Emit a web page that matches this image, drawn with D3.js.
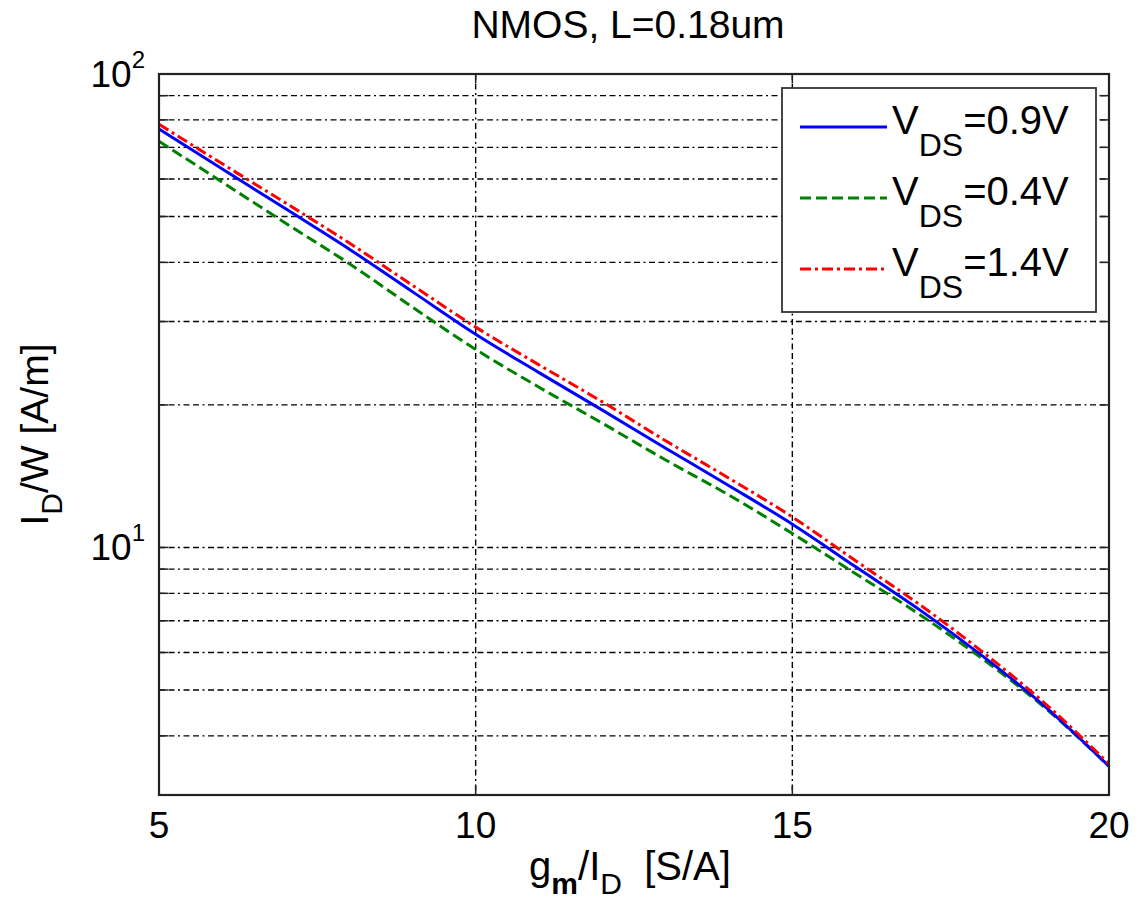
<!DOCTYPE html>
<html>
<head>
<meta charset="utf-8">
<script src="https://cdn.jsdelivr.net/npm/d3@7"></script>
<style>
  body { margin: 0; background: #fff; }
  svg { font-family: "Liberation Sans", Arial, sans-serif; }
</style>
</head>
<body>
<div id="chart"></div>
<script>
// gm/ID sweep [S/A]
const gmId = [5, 6, 7, 8, 9, 10, 11, 12, 13, 14, 15, 16, 17, 18, 19, 20]
// ID/W [A/m] for each VDS
const vds09 = [76.5, 63.0, 51.9, 42.7, 34.7, 28.2, 23.4, 19.5, 16.2, 13.5, 11.2, 9.1, 7.4, 5.9, 4.6, 3.45]
const vds04 = [72.1, 59.1, 48.4, 39.8, 32.2, 26.2, 21.8, 18.3, 15.3, 12.9, 10.7, 8.8, 7.23, 5.82, 4.57, 3.45]
const vds14 = [78.3, 64.6, 53.4, 44.0, 35.8, 29.2, 24.3, 20.3, 16.8, 14.0, 11.6, 9.37, 7.59, 6.02, 4.67, 3.49]

const seriesNames = ['0.9', '0.4', '1.4']
const xTicks = [5, 10, 15, 20]
const yGrid = [4, 5, 6, 7, 8, 9, 10, 20, 30, 40, 50, 60, 70, 80, 90]
const yDecades = [{v: 10, exp: '1'}, {v: 100, exp: '2'}]

const width = 1136
const height = 910
const m = {left: 159, top: 74, right: 1109, bottom: 795}

const svg = d3.select('#chart').append('svg')
  .attr('width', width)
  .attr('height', height)

const x = d3.scaleLinear().domain([5, 20]).range([m.left, m.right])
const y = d3.scaleLog().domain([3, 100]).range([m.bottom, m.top])

const gridDash = '6,3.5,6,3.5,2,3.5'

// grid
svg.append('g').selectAll('line')
  .data(yGrid)
  .enter().append('line')
  .attr('x1', m.left).attr('x2', m.right)
  .attr('y1', d => y(d)).attr('y2', d => y(d))
  .attr('stroke', '#000').attr('stroke-width', 1.4)
  .attr('stroke-dasharray', gridDash)

svg.append('g').selectAll('line')
  .data(xTicks.slice(1, -1))
  .enter().append('line')
  .attr('x1', d => x(d)).attr('x2', d => x(d))
  .attr('y1', m.top).attr('y2', m.bottom)
  .attr('stroke', '#000').attr('stroke-width', 1.4)
  .attr('stroke-dasharray', gridDash)

// ticks (inward, both sides)
const tickLen = 9
const tk = svg.append('g').attr('stroke', '#222').attr('stroke-width', 1.5)
yGrid.concat([100]).forEach(v => {
  tk.append('line').attr('x1', m.left).attr('x2', m.left + tickLen).attr('y1', y(v)).attr('y2', y(v))
  tk.append('line').attr('x1', m.right).attr('x2', m.right - tickLen).attr('y1', y(v)).attr('y2', y(v))
})
xTicks.forEach(v => {
  tk.append('line').attr('x1', x(v)).attr('x2', x(v)).attr('y1', m.bottom).attr('y2', m.bottom - tickLen)
  tk.append('line').attr('x1', x(v)).attr('x2', x(v)).attr('y1', m.top).attr('y2', m.top + tickLen)
})

// series
const line = d3.line()
  .x((d, i) => x(gmId[i]))
  .y(d => y(d))
  .curve(d3.curveMonotoneX)

const styles = [
  {data: vds09, color: '#0000ff', dash: null},
  {data: vds04, color: '#008000', dash: '11,5'},
  {data: vds14, color: '#ff0000', dash: '11,4,3,4'}
]

svg.append('clipPath').attr('id', 'clip')
  .append('rect').attr('x', m.left).attr('y', m.top)
  .attr('width', m.right - m.left).attr('height', m.bottom - m.top)

const plotG = svg.append('g').attr('clip-path', 'url(#clip)')
;[1, 0, 2].forEach(k => {
  const s = styles[k]
  plotG.append('path')
    .attr('d', line(s.data))
    .attr('fill', 'none')
    .attr('stroke', s.color)
    .attr('stroke-width', 3)
    .attr('stroke-dasharray', s.dash)
})

// axes box
svg.append('rect')
  .attr('x', m.left).attr('y', m.top)
  .attr('width', m.right - m.left).attr('height', m.bottom - m.top)
  .attr('fill', 'none').attr('stroke', '#222').attr('stroke-width', 2.2)

// x tick labels
svg.append('g').selectAll('text')
  .data(xTicks)
  .enter().append('text')
  .attr('x', d => x(d))
  .attr('y', 838)
  .attr('text-anchor', 'middle')
  .attr('font-size', 37)
  .text(d => d)

// y tick labels
const yl = svg.append('g').selectAll('text')
  .data(yDecades)
  .enter().append('text')
  .attr('x', 145)
  .attr('y', d => y(d.v) + 13)
  .attr('text-anchor', 'end')
  .attr('font-size', 37)
yl.append('tspan').text('10')
yl.append('tspan').attr('dy', -19).attr('font-size', 24).text(d => d.exp)

// title
svg.append('text')
  .attr('x', 628)
  .attr('y', 38)
  .attr('text-anchor', 'middle')
  .attr('font-size', 39)
  .text('NMOS, L=0.18um')

// x label
const xl = svg.append('text')
  .attr('x', 630)
  .attr('y', 880)
  .attr('text-anchor', 'middle')
  .attr('font-size', 40)
xl.append('tspan').text('g')
xl.append('tspan').attr('dy', 14).attr('font-size', 30).attr('font-weight', 'bold').text('m')
xl.append('tspan').attr('dy', -14).text('/I')
xl.append('tspan').attr('dy', 14).attr('font-size', 30).text('D')
xl.append('tspan').attr('dy', -14).text('  [S/A]')
  .attr('xml:space', 'preserve')

// y label
const ylab = svg.append('text')
  .attr('transform', `translate(48,${(m.top + m.bottom) / 2}) rotate(-90)`)
  .attr('text-anchor', 'middle')
  .attr('font-size', 39)
ylab.append('tspan').text('I')
ylab.append('tspan').attr('dy', 14).attr('font-size', 30).text('D')
ylab.append('tspan').attr('dy', -14).text('/W [A/m]')

// legend
const lg = svg.append('g')
lg.append('rect')
  .attr('x', 782).attr('y', 88)
  .attr('width', 314).attr('height', 224)
  .attr('fill', '#fff').attr('stroke', '#333').attr('stroke-width', 1.8)

seriesNames.forEach((name, i) => {
  const s = styles[i]
  const yy = 127 + i * 71
  lg.append('line')
    .attr('x1', 800).attr('x2', 887)
    .attr('y1', yy).attr('y2', yy)
    .attr('stroke', s.color).attr('stroke-width', 3)
    .attr('stroke-dasharray', s.dash)
  const t = lg.append('text')
    .attr('x', 892).attr('y', yy + 7)
    .attr('font-size', 40)
  t.append('tspan').text('V')
  t.append('tspan').attr('dy', 22).attr('font-size', 32).text('DS')
  t.append('tspan').attr('dy', -22).text('=' + name + 'V')
})
</script>
</body>
</html>
